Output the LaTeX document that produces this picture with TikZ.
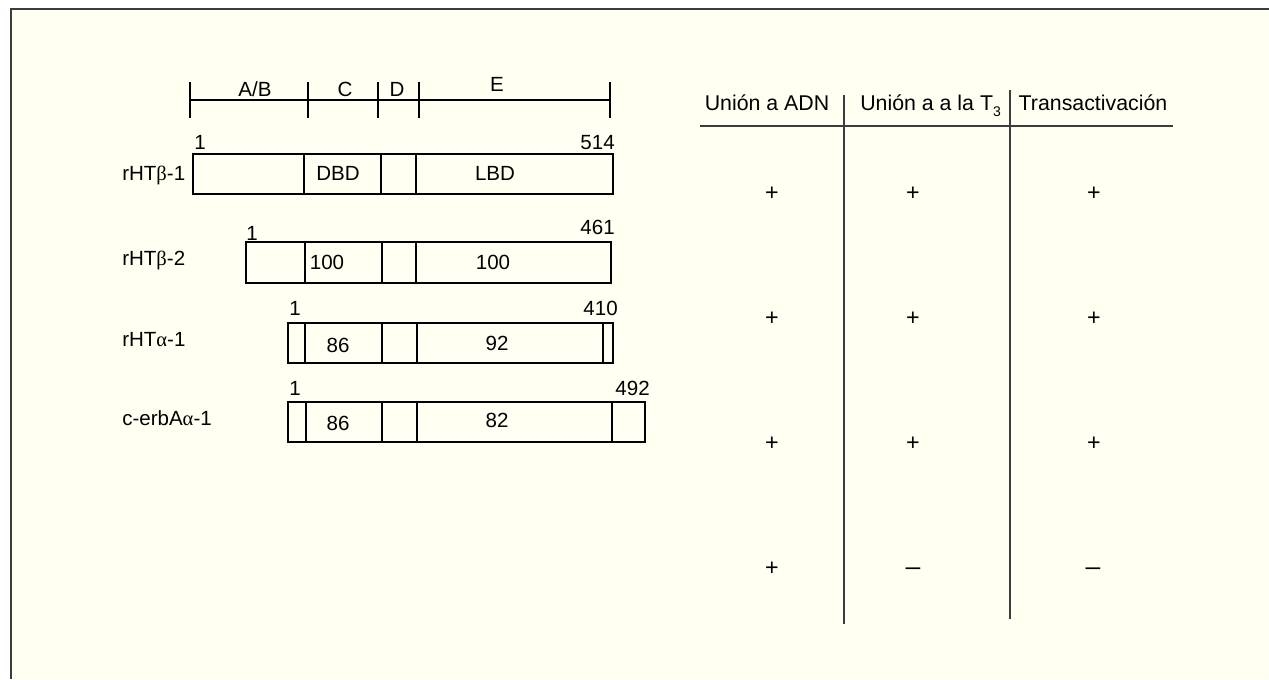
\documentclass[tikz,border=0pt]{standalone}
\usepackage{fontspec}
\setmainfont{Liberation Sans}
\newfontfamily\grk{Liberation Serif}
\definecolor{paper}{RGB}{255,255,242}
\definecolor{rulegray}{RGB}{60,60,60}
\newcommand{\gb}{{\grk β}}
\newcommand{\ga}{{\grk α}}
\newcommand{\wideminus}{\scalebox{1.3}[1]{−}}
\begin{document}
\begin{tikzpicture}[x=0.75pt,y=-0.75pt,
  lbl/.style={inner sep=0pt, font=\fontsize{15.4}{18}\selectfont,
              text height=11pt, text depth=0pt},
  head/.style={inner sep=0pt, font=\fontsize{16}{20}\selectfont,
               text height=11.5pt, text depth=0pt},
  sign/.style={inner sep=0pt, font=\fontsize{17.5}{20}\selectfont,
               text height=10.4pt, text depth=0pt},
  boxline/.style={draw=black, line width=0.9pt},
  scaleline/.style={draw=black, line width=0.9pt},
  tabline/.style={draw=rulegray, line width=1.5pt},
  frameline/.style={draw=rulegray, line width=1.6pt}]
\useasboundingbox (0,0) rectangle (1269,679);
% page and frame
\fill[white] (0,0) rectangle (1269,679);
\fill[paper] (11,9) rectangle (1269,679);
\draw[frameline] (11,679) -- (11,9) -- (1269,9);

% domain scale A/B, C, D, E
\draw[scaleline] (190,100) -- (610,100);
\foreach \x in {190,308,378,419,610}
  \draw[scaleline] (\x,82) -- (\x,118);
\node[lbl] (sAB) at (255,89) {A/B};
\node[lbl] (sC)  at (345,89) {C};
\node[lbl] (sD)  at (397,89) {D};
\node[lbl] (sE)  at (497,84) {E};

% receptor names
\node[lbl, anchor=west] (nb1) at (122,173) {rHT\gb-1};
\node[lbl, anchor=west] (nb2) at (122,258) {rHT\gb-2};
\node[lbl, anchor=west] (na1) at (122,339) {rHT\ga-1};
\node[lbl, anchor=west] (nc)  at (122,418) {c-erbA\ga-1};

% rHTbeta-1
\draw[boxline] (193,154) rectangle (613,194);
\foreach \x in {304,381,416} \draw[boxline] (\x,154) -- (\x,194);
\node[lbl] (b1s) at (200,142) {1};
\node[lbl, anchor=east] (b1e) at (615,142) {514};
\node[lbl] (b1c) at (338,173) {DBD};
\node[lbl] (b1l) at (495,173) {LBD};

% rHTbeta-2
\draw[boxline] (246,242) rectangle (611,283);
\foreach \x in {305,382,416} \draw[boxline] (\x,242) -- (\x,283);
\node[lbl] (b2s) at (252,233) {1};
\node[lbl, anchor=east] (b2e) at (615,227) {461};
\node[lbl] (b2c) at (327,262) {100};
\node[lbl] (b2l) at (493,262) {100};

% rHTalpha-1
\draw[boxline] (288,323) rectangle (613,363);
\foreach \x in {305,382,417,603} \draw[boxline] (\x,323) -- (\x,363);
\node[lbl] (a1s) at (295,308) {1};
\node[lbl, anchor=east] (a1e) at (618,308) {410};
\node[lbl] (a1c) at (338,345) {86};
\node[lbl] (a1l) at (497,343) {92};

% c-erbAalpha-1
\draw[boxline] (288,402) rectangle (645,442);
\foreach \x in {306,382,417,612} \draw[boxline] (\x,402) -- (\x,442);
\node[lbl] (cs) at (295,388) {1};
\node[lbl, anchor=east] (ce) at (650,388) {492};
\node[lbl] (cc) at (338,423) {86};
\node[lbl] (cl) at (497,420) {82};

% table of activities
\node[head] (h1) at (767,103) {Unión a ADN};
\node[head, anchor=west] (h2) at (860,103) {Unión a a la T{\fontsize{10.5}{12}\selectfont\raisebox{-4.5pt}{3}}};
\node[head] (h3) at (1093,103) {Transactivación};
\draw[tabline] (700,126) -- (1173,126);
\draw[tabline] (844,95) -- (844,624);
\draw[tabline] (1010,90) -- (1010,619);

\node[sign] (r1a) at (772,194) {+};
\node[sign] (r1b) at (913,194) {+};
\node[sign] (r1c) at (1094,194) {+};
\node[sign] (r2a) at (772,319) {+};
\node[sign] (r2b) at (913,319) {+};
\node[sign] (r2c) at (1094,319) {+};
\node[sign] (r3a) at (772,444) {+};
\node[sign] (r3b) at (913,444) {+};
\node[sign] (r3c) at (1094,444) {+};
\node[sign] (r4a) at (772,569) {+};
\node[sign] (r4b) at (913,570) {\wideminus};
\node[sign] (r4c) at (1093,570) {\wideminus};
\end{tikzpicture}
\end{document}
